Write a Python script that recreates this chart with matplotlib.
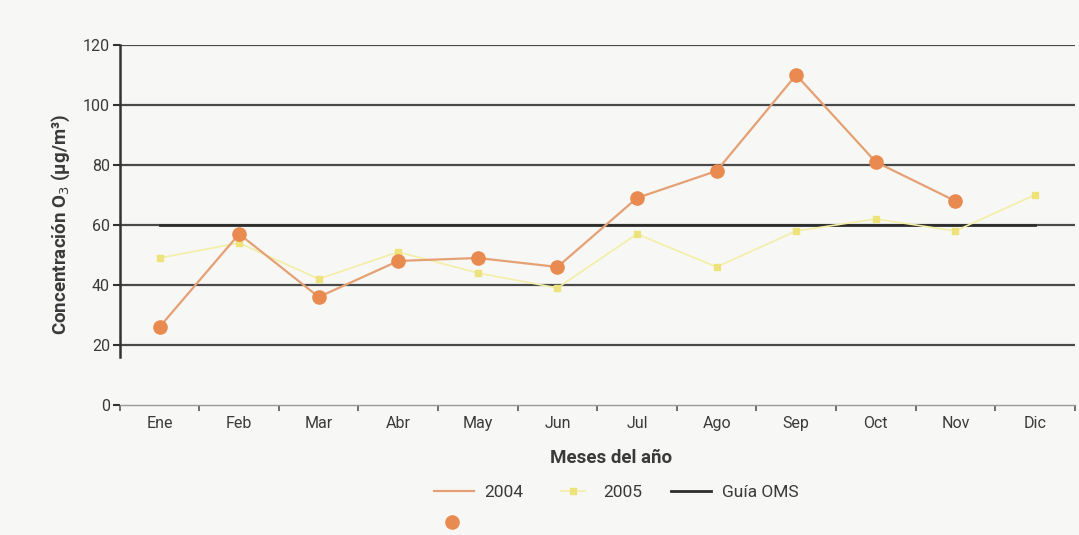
import matplotlib
matplotlib.use("Agg")
import matplotlib.pyplot as plt
from matplotlib.lines import Line2D
from matplotlib.legend_handler import HandlerBase
import numpy as np

months = ["Ene", "Feb", "Mar", "Abr", "May", "Jun", "Jul", "Ago", "Sep", "Oct", "Nov", "Dic"]
o3_2004 = [26, 57, 36, 48, 49, 46, 69, 78, 110, 81, 68, np.nan]
o3_2005 = [49, 54, 42, 51, 44, 39, 57, 46, 58, 62, 58, 70]
guia_oms = [60] * 12
yticks = [0, 20, 40, 60, 80, 100, 120]

plt.rcParams['font.family'] = ['Roboto', 'DejaVu Sans']
txt = '#3a3a3a'
bg = '#f7f7f5'

fig = plt.figure(figsize=(10.79, 5.35), dpi=100, facecolor=bg)
ax = fig.add_axes([0.111, 0.243, 0.885, 0.673])
ax.set_facecolor(bg)

x = np.arange(len(months))
for yv in yticks[1:]:
    ax.axhline(yv, color='#4a4a4a', lw=1.6, zorder=1)

ax.plot(x, guia_oms, color='#2e2e2e', lw=2.0, zorder=2, label='Guía OMS')
ax.plot(x, o3_2005, color='#f3efa6', lw=1.2, marker='s', ms=5,
        mfc='#ede37a', mec='#ede37a', zorder=3, label='2005')
ax.plot(x, o3_2004, color='#e5a074', lw=1.6, marker='o', ms=9.5,
        mfc='#e98a50', mec='#e98a50', zorder=4, label='2004')

ax.set_xlim(-0.5, 11.5)
ax.set_ylim(0, 120)
ax.set_yticks(yticks)
ax.set_xticks(x)
ax.set_xticklabels(months)
ax.set_xticks(np.arange(-0.5, 12.0, 1.0), minor=True)
ax.tick_params(axis='x', which='major', length=0, pad=8, labelsize=11.5, labelcolor=txt)
ax.tick_params(axis='x', which='minor', length=4, width=1.2, color='#555555', direction='out')
ax.tick_params(axis='y', length=5, width=1.5, color='#333333', labelsize=11.5, labelcolor=txt, pad=2)

for s in ['top', 'right']:
    ax.spines[s].set_visible(False)
ax.spines['left'].set_color('#333333')
ax.spines['left'].set_linewidth(1.8)
ax.spines['left'].set_bounds(16, 120)
ax.spines['bottom'].set_color('#9a9a9a')
ax.spines['bottom'].set_linewidth(1.0)

ax.set_ylabel('Concentración O$_3$ (μg/m³)', fontsize=13.5, fontweight='bold', color=txt)
ax.yaxis.set_label_coords(-0.05, 0.5)
ax.set_xlabel('Meses del año', fontsize=13.5, fontweight='bold', color=txt)
ax.xaxis.set_label_coords(0.515, -0.123)


class LineMarkerBelow(HandlerBase):
    def create_artists(self, legend, orig_handle, xdescent, ydescent, width, height, fontsize, trans):
        y = height / 2 - ydescent
        line = Line2D([-xdescent, -xdescent + width], [y, y], color=orig_handle.get_color(),
                      lw=orig_handle.get_linewidth())
        mk = Line2D([-xdescent + width * 0.45], [y - height * 2.5], marker='o', ls='None',
                    ms=orig_handle.get_markersize(), mfc=orig_handle.get_markerfacecolor(),
                    mec=orig_handle.get_markeredgecolor())
        line.set_transform(trans)
        mk.set_transform(trans)
        return [line, mk]


class MarkerOnly(HandlerBase):
    def create_artists(self, legend, orig_handle, xdescent, ydescent, width, height, fontsize, trans):
        y = height / 2 - ydescent
        line = Line2D([-xdescent + width * 0.2, -xdescent + width * 0.8], [y, y],
                      color=orig_handle.get_color(), lw=orig_handle.get_linewidth())
        mk = Line2D([-xdescent + width / 2], [y], marker=orig_handle.get_marker(), ls='None',
                    ms=orig_handle.get_markersize(), mfc=orig_handle.get_markerfacecolor(),
                    mec=orig_handle.get_markeredgecolor())
        line.set_transform(trans)
        mk.set_transform(trans)
        return [line, mk]


handles, labels = ax.get_legend_handles_labels()
order = [labels.index('2004'), labels.index('2005'), labels.index('Guía OMS')]
h = [handles[i] for i in order]
l = [labels[i] for i in order]
leg = fig.legend(h, l, loc='center', bbox_to_anchor=(0.571, 0.079), ncol=3, frameon=False,
                 fontsize=12.5, handlelength=2.3, columnspacing=1.7, handletextpad=0.6,
                 borderaxespad=0, borderpad=0,
                 handler_map={h[0]: LineMarkerBelow(), h[1]: MarkerOnly()})
for t in leg.get_texts():
    t.set_color(txt)

fig.savefig('out.png', dpi=100, facecolor=fig.get_facecolor())
